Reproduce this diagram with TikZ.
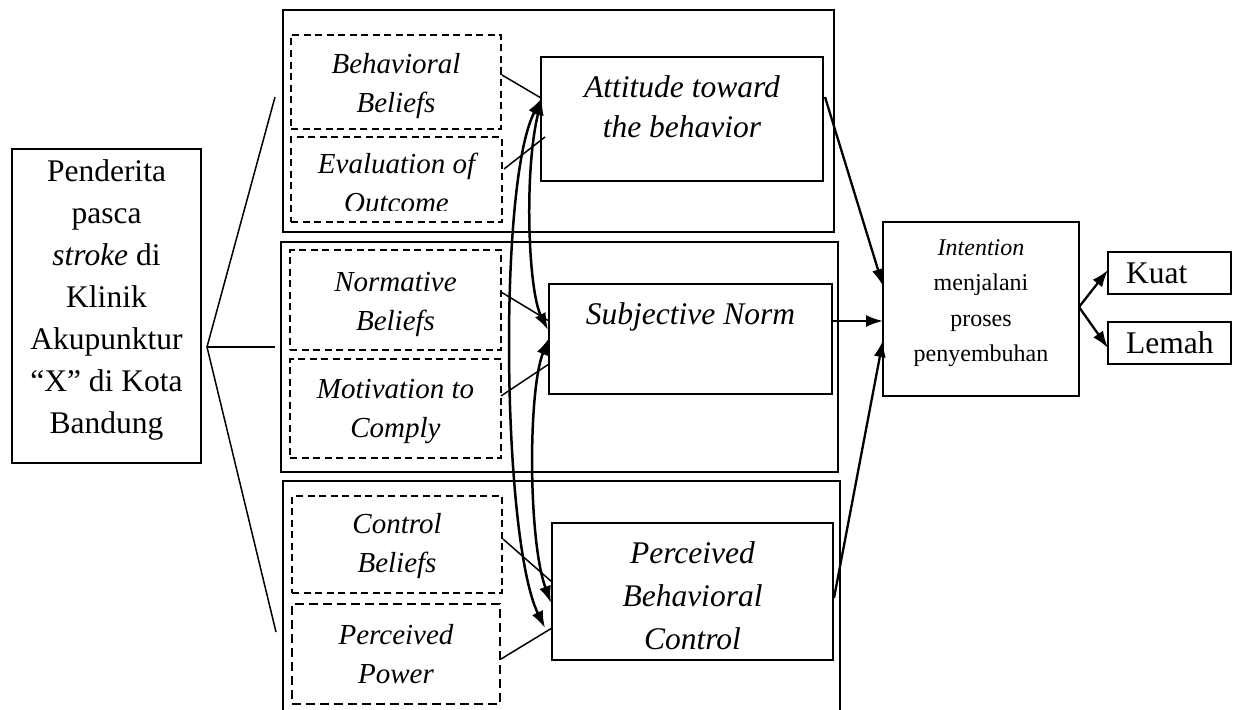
\documentclass[tikz,border=0pt]{standalone}
\usepackage{fontspec}
\setmainfont{Liberation Serif}
\usetikzlibrary{arrows.meta}
\newcommand\mkbox[6]{\node[#1,minimum width={(#5)-(#3)},minimum height={(#6)-(#4)}] (#2) at ({((#3)+(#5))/2},{((#4)+(#6))/2}) {};}
\begin{document}
\begin{tikzpicture}[x=1pt,y=-1pt,
  solidbox/.style={draw,line width=1.7pt,inner sep=0pt},
  dashbox/.style={draw,line width=1.5pt,dash pattern=on 7pt off 4.5pt,inner sep=0pt},
  thickdash/.style={draw,line width=2.2pt,dash pattern=on 9pt off 5pt,inner sep=0pt},
  tx/.style={inner sep=0pt,align=center,anchor=north},
  big/.style={font=\fontsize{31.5}{42}\selectfont},
  mid/.style={font=\fontsize{29}{39}\selectfont\itshape},
  ln/.style={line width=1.5pt},
  tip/.style={},
  arr/.style={line width=2.3pt,-{Latex[length=17pt,width=12pt]}},
  curv/.style={line width=2.5pt,{Latex[length=17pt,width=12pt]}-{Latex[length=17pt,width=12pt]}}
]
\clip (0,0) rectangle (1233,709);
\fill[white] (0,0) rectangle (1233,709);
% boxes
\mkbox{solidbox}{left}{12}{149}{201}{463}
\mkbox{solidbox}{g1}{283}{10}{834}{232}
\mkbox{solidbox}{g2}{281}{242}{838}{472}
\mkbox{solidbox}{g3}{283}{481}{840}{722}
\mkbox{dashbox}{db1}{291}{35}{501}{129}
\mkbox{dashbox}{db2}{291}{137}{502}{222}
\mkbox{dashbox}{db3}{290}{250}{501}{350}
\mkbox{dashbox}{db4}{290}{359}{501}{458}
\mkbox{dashbox}{db5}{292}{496}{502}{593}
\mkbox{thickdash}{db6}{292}{604}{500}{704}
\mkbox{solidbox}{att}{541}{57}{823}{181}
\mkbox{solidbox}{sn}{549}{284}{832}{394}
\mkbox{solidbox}{pbc}{552}{523}{833}{660}
\mkbox{solidbox}{int}{883}{222}{1079}{396}
\mkbox{solidbox}{kuat}{1108}{252}{1231}{294}
\mkbox{solidbox}{lemah}{1108}{322}{1231}{364}
% texts
\node[tx,big] (tleft) at (106.5,155) {\rule{0pt}{26pt}Penderita\\pasca\\\textit{stroke} di\\Klinik\\Akupunktur\\“X” di Kota\\Bandung};
\node[tx,mid] (tdb1) at (396,49) {\rule{0pt}{24pt}Behavioral\\Beliefs};
\begin{scope}
\clip (291,137) rectangle (502,210);
\node[tx,mid] (tdb2) at (396.5,149) {\rule{0pt}{24pt}Evaluation of\\Outcome};
\end{scope}
\node[tx,mid] (tdb3) at (395.5,267) {\rule{0pt}{24pt}Normative\\Beliefs};
\node[tx,mid] (tdb4) at (395.5,374) {\rule{0pt}{24pt}Motivation to\\Comply};
\node[tx,mid] (tdb5) at (397,509) {\rule{0pt}{24pt}Control\\Beliefs};
\node[tx,mid] (tdb6) at (396,620) {\rule{0pt}{24pt}Perceived\\Power};
\node[tx,font=\fontsize{31.5}{40}\selectfont\itshape] (tatt) at (682,71) {\rule{0pt}{26pt}Attitude toward\\the behavior};
\node[tx,font=\fontsize{31.5}{40}\selectfont\itshape] (tsn) at (690.5,298) {\rule{0pt}{26pt}Subjective Norm};
\node[tx,font=\fontsize{31.5}{43}\selectfont\itshape] (tpbc) at (692.5,537) {\rule{0pt}{26pt}Perceived\\Behavioral\\Control};
\node[tx,font=\fontsize{24}{35.5}\selectfont] (tint) at (981,235) {\rule{0pt}{20pt}\textit{Intention}\\menjalani\\proses\\penyembuhan};
\node[inner sep=0pt,anchor=north west,big] (tkuat) at (1126,257) {\rule{0pt}{26pt}Kuat};
\node[inner sep=0pt,anchor=north west,big] (tlemah) at (1126,327) {\rule{0pt}{26pt}Lemah};
% left connectors
\coordinate (lj) at (207,347);
\coordinate (l1) at (275,97);
\coordinate (l2) at (275,347);
\coordinate (l3) at (276,632);
\draw[ln] (l1) -- (lj) -- (l3);
\draw[ln] (lj) -- (l2);
% dashed box to construct lines
\coordinate (a1) at (502,75);  \coordinate (a2) at (541,98);
\coordinate (b1) at (504,169); \coordinate (b2) at (545,137);
\coordinate (c1) at (501,292); \coordinate (c2) at (549,321);
\coordinate (d1) at (501,396); \coordinate (d2) at (549,364);
\coordinate (e1) at (503,539); \coordinate (e2) at (552,582);
\coordinate (f1) at (501,659); \coordinate (f2) at (552,628);
\draw[ln] (a1) -- (a2);
\draw[ln] (b1) -- (b2);
\draw[ln] (c1) -- (c2);
\draw[ln] (d1) -- (d2);
\draw[ln] (e1) -- (e2);
\draw[ln] (f1) -- (f2);
% curved double arrows
\coordinate (ca) at (542,98);
\coordinate (sa) at (548,330);
\coordinate (sb) at (549,338);
\coordinate (pa) at (551,603);
\coordinate (pb) at (545,628);
\draw[curv] (ca) .. controls (498,180) and (502,540) .. (pb);
\draw[curv] (ca) .. controls (524,170) and (528,290) .. (sa);
\draw[curv] (sb) .. controls (528,390) and (528,540) .. (pa);
% arrows to intention
\coordinate (ao) at (825,97);   \coordinate (ai) at (883,286);
\coordinate (so) at (832,321);  \coordinate (si) at (883,321);
\coordinate (po) at (834,598);  \coordinate (pi) at (883,340);
\draw[arr] (ao) -- (ai);
\draw[arr] (so) -- (si);
\draw[arr] (po) -- (pi);
% outcome arrows
\coordinate (io) at (1079,307);
\draw[arr] (io) -- (1108,270);
\draw[arr] (io) -- (1108,348);
\end{tikzpicture}
\end{document}
